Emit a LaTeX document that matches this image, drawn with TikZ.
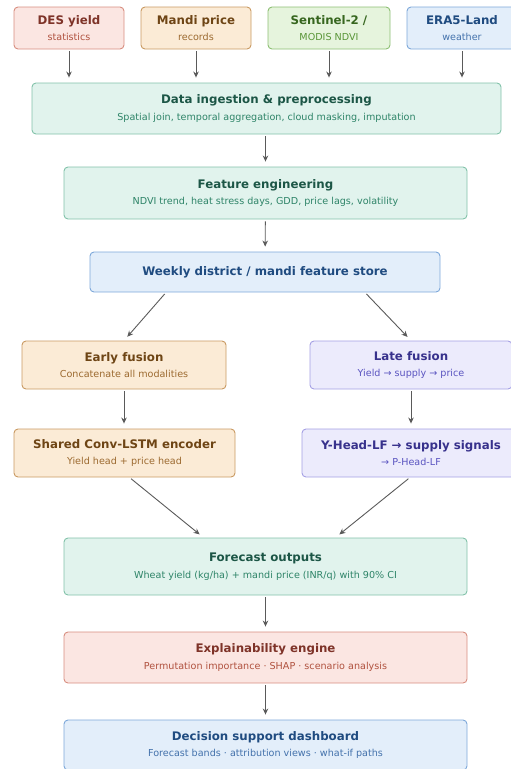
\documentclass[tikz,border=0pt]{standalone}
\usepackage{fontspec}
\setmainfont{DejaVu Sans}
\usepackage{xcolor}
\usetikzlibrary{arrows.meta,positioning,calc}
% palette: F = fill, D = border, T = title, S = subtitle
\definecolor{roseF}{HTML}{FBE6E2}\definecolor{roseD}{HTML}{D88E80}
\definecolor{roseT}{HTML}{7E3328}\definecolor{roseS}{HTML}{B0523F}
\definecolor{sandF}{HTML}{FBEBD6}\definecolor{sandD}{HTML}{C99A62}
\definecolor{sandT}{HTML}{6E4515}\definecolor{sandS}{HTML}{9C6A30}
\definecolor{leafF}{HTML}{E6F4DD}\definecolor{leafD}{HTML}{8DBF73}
\definecolor{leafT}{HTML}{37661F}\definecolor{leafS}{HTML}{5A9638}
\definecolor{skyF}{HTML}{E3EEFA}\definecolor{skyD}{HTML}{7DA8DA}
\definecolor{skyT}{HTML}{1F4B80}\definecolor{skyS}{HTML}{4472AC}
\definecolor{mintF}{HTML}{E1F3ED}\definecolor{mintD}{HTML}{82C2A9}
\definecolor{mintT}{HTML}{1C5646}\definecolor{mintS}{HTML}{2E8468}
\definecolor{lilacF}{HTML}{ECEBFC}\definecolor{lilacD}{HTML}{A5A0E4}
\definecolor{lilacT}{HTML}{37318C}\definecolor{lilacS}{HTML}{5A54C0}
\definecolor{wire}{HTML}{5A5A5A}
\tikzset{%
  % classes
  stage/.style={draw, rounded corners=4pt, line width=0.9pt, align=center, inner sep=0pt},
  rose/.style={stage, fill=roseF, draw=roseD},
  sand/.style={stage, fill=sandF, draw=sandD},
  leaf/.style={stage, fill=leafF, draw=leafD},
  sky/.style={stage, fill=skyF, draw=skyD},
  mint/.style={stage, fill=mintF, draw=mintD},
  lilac/.style={stage, fill=lilacF, draw=lilacD},
  % edge styles
  flow/.style={-{Stealth[length=6pt, width=5.5pt]}, draw=wire, line width=0.9pt, shorten <=2pt, shorten >=5pt},
}
\newcommand{\stagetitle}{\fontsize{11.8}{14}\selectfont\bfseries}
\newcommand{\stagesub}{\fontsize{9.6}{11}\selectfont}
\newcommand{\stagenode}[6][]{%
  % #1 = extra TikZ options
  % #2 = class (rose | sand | leaf | sky | mint | lilac)
  % #3 = node name
  % #4 = centre
  % #5 = title, #6 = subtitle
  \node[#2, #1] (#3) at (#4) {%
    {\stagetitle\color{#2T}#5}\\[4.5pt]
    {\stagesub\color{#2S}#6}%
  };
}

\begin{document}
\begin{tikzpicture}[x=1pt, y=-1pt]
  \useasboundingbox (0,0) rectangle (511,769);

  % Sources
  \stagenode[minimum width=110pt, minimum height=42pt]{rose}{des}{69,28}{DES yield}{statistics};
  \stagenode[minimum width=110pt, minimum height=42pt]{sand}{mandi}{196,28}{Mandi price}{records};
  \stagenode[minimum width=122pt, minimum height=42pt]{leaf}{sentinel}{329,28}{Sentinel-2 /}{MODIS NDVI};
  \stagenode[minimum width=110pt, minimum height=42pt]{sky}{era}{462,28}{ERA5-Land}{weather};

  % Shared trunk
  \stagenode[minimum width=469pt, minimum height=51pt]{mint}{ingest}{266.5,108.5}{Data ingestion \& preprocessing}{Spatial join, temporal aggregation, cloud masking, imputation};
  \stagenode[minimum width=403pt, minimum height=52pt]{mint}{feat}{265.5,193}{Feature engineering}{NDVI trend, heat stress days, GDD, price lags, volatility};
  \node[sky, minimum width=350pt, minimum height=40pt] (store) at (265,272)
    {\stagetitle\color{skyT}Weekly district / mandi feature store};

  % Two fusion branches
  \stagenode[minimum width=204pt, minimum height=48pt]{sand}{early}{124,365}{Early fusion}{Concatenate all modalities};
  \stagenode[minimum width=202pt, minimum height=48pt]{lilac}{late}{411,365}{Late fusion}{Yield → supply → price};
  \stagenode[minimum width=221pt, minimum height=48pt]{sand}{shared}{124.5,453}{Shared Conv-LSTM encoder}{Yield head + price head};
  \stagenode[minimum width=218pt, minimum height=48pt]{lilac}{yhead}{411,453}{Y-Head-LF → supply signals}{→ P-Head-LF};

  % Outputs
  \stagenode[minimum width=403pt, minimum height=57pt]{mint}{fcast}{265.5,566.5}{Forecast outputs}{Wheat yield (kg/ha) + mandi price (INR/q) with 90\% CI};
  \stagenode[minimum width=403pt, minimum height=51pt]{rose}{xai}{265.5,657.5}{Explainability engine}{Permutation importance · SHAP · scenario analysis};
  \stagenode[minimum width=403pt, minimum height=50pt]{sky}{dash}{265.5,745}{Decision support dashboard}{Forecast bands · attribution views · what-if paths};

  % Flow
  \foreach \src in {des, mandi, sentinel, era}
    \draw[flow] (\src.south) -- (\src.south |- ingest.north);
  \draw[flow] (feat.north |- ingest.south) -- (feat.north);
  \draw[flow] (feat) -- (store);
  \draw[flow] ([xshift=-99pt]store.south) -- (early.north);
  \draw[flow] ([xshift=100pt]store.south) -- (late.north);
  \draw[flow] (early.south) -- (early.south |- shared.north);
  \draw[flow] (late) -- (yhead);
  \draw[flow] ([xshift=5pt]shared.south) -- ([xshift=-62pt]fcast.north);
  \draw[flow] ([xshift=-1pt]yhead.south) -- ([xshift=70pt]fcast.north);
  \draw[flow] (fcast) -- (xai);
  \draw[flow] (xai) -- (dash);
\end{tikzpicture}
\end{document}
